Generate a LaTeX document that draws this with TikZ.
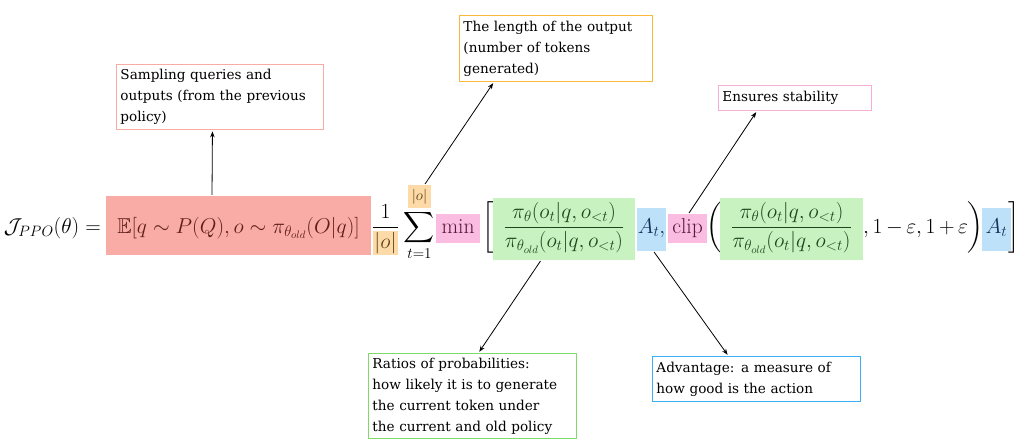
\RequirePackage{fix-cm}
\documentclass[tikz,border=0pt]{standalone}
\usepackage{amsmath}
\usepackage{amssymb}
\usepackage{fontspec}
\newfontfamily\notefam{DejaVu Serif}
\usetikzlibrary{arrows.meta,calc}

\definecolor{samplefill}{RGB}{249,172,165}
\definecolor{sampletext}{RGB}{95,30,28}
\definecolor{lenfill}{RGB}{253,219,168}
\definecolor{lentext}{RGB}{95,65,20}
\definecolor{clipfill}{RGB}{250,188,224}
\definecolor{cliptext}{RGB}{85,25,60}
\definecolor{ratiofill}{RGB}{200,242,192}
\definecolor{ratiotext}{RGB}{30,70,30}
\definecolor{advfill}{RGB}{190,225,250}
\definecolor{advtext}{RGB}{20,50,90}
\definecolor{lenline}{RGB}{250,185,60}
\definecolor{clipline}{RGB}{246,175,212}
\definecolor{ratioline}{RGB}{125,220,105}
\definecolor{advline}{RGB}{60,175,245}

\newcommand{\eqfont}{\fontsize{21.5}{26}\selectfont}
\newcommand{\notefont}{\notefam\fontsize{13.6}{21}\selectfont}
\newcommand{\lenbox}[1]{{\setlength{\fboxsep}{1.5pt}\colorbox{lenfill}{\color{lentext}$#1$}}}

\tikzset{
  hl/.style={inner sep=0pt, anchor=base, font=\eqfont},
  note/.style={draw, line width=0.9pt, fill=white, inner xsep=4pt, inner ysep=3pt, anchor=north west, align=left, font=\notefont},
  pointer/.style={-{Stealth[length=6pt,width=4.5pt]}, line width=0.8pt, shorten >=1.5pt, shorten <=1pt},
}

\begin{document}
\begin{tikzpicture}[x=1pt,y=-1pt]
\path[use as bounding box, fill=white] (0,0) rectangle (1024,445);
% the objective
\node[hl, anchor=base east] (lhs) at (101,233) {$\mathcal{J}_{PPO}(\theta) =$};
\node[hl, fill=samplefill, text=sampletext, minimum width=265pt, text height=37pt, text depth=22pt] (sample) at (238.5,233) {$\mathbb{E}[q\sim P(Q), o\sim \pi_{\theta_{old}}(O|q)]$};
\node[hl] (norm) at (385.5,233) {$\dfrac{1}{\lenbox{|o|}}$};
\node[hl] (sum) at (419.5,233) {$\displaystyle\sum_{t=1}$};
\node[hl, anchor=center, fill=lenfill, text=lentext, minimum width=23pt, minimum height=23pt] (len) at (419.5,196.5) {$\scriptstyle |o|$};
\node[hl, fill=clipfill, text=cliptext, minimum width=44pt, text height=19pt, text depth=10pt] (min) at (458,233) {$\min$};
\node[hl] (lbrack) at (488,233) {$\bigg[$};
\node[hl, fill=ratiofill, text=ratiotext, minimum width=142pt, text height=35pt, text depth=27pt] (ratio) at (564,233) {$\dfrac{\pi_\theta(o_t|q,o_{<t})}{\pi_{\theta_{old}}(o_t|q,o_{<t})}$};
\node[hl, fill=advfill, text=advtext, minimum width=29pt, text height=25pt, text depth=18pt] (adv) at (651.5,233) {$A_t,$};
\node[hl, fill=clipfill, text=cliptext, minimum width=39pt, text height=19pt, text depth=10pt] (clip) at (687.5,233) {$\mathrm{clip}$};
\node[hl] (lparen) at (714,233) {$\bigg($};
\node[hl, fill=ratiofill, text=ratiotext, minimum width=143pt, text height=35pt, text depth=27pt] (ratioclip) at (791.5,233) {$\dfrac{\pi_\theta(o_t|q,o_{<t})}{\pi_{\theta_{old}}(o_t|q,o_{<t})}$};
\node[hl, anchor=base west] (bounds) at (863,233) {$\medmuskip=3mu ,1-\varepsilon,1+\varepsilon$};
\node[hl] (rparen) at (975,233) {$\bigg)$};
\node[hl, fill=advfill, text=advtext, minimum width=29pt, text height=25pt, text depth=18pt] (advclip) at (996.5,233) {$A_t$};
\node[hl] (rbrack) at (1014,233) {$\bigg]$};
% the notes
\node[note, draw=samplefill, text width=199pt, minimum height=65pt] (samplenote) at (116,64) {Sampling queries and\\outputs (from the previous\\policy)};
\node[note, draw=lenline, text width=185pt, minimum height=66pt] (lennote) at (459,15) {The length of the output\\(number of tokens\\generated)};
\node[note, draw=clipline, text width=145pt, minimum height=25pt] (stabnote) at (718,85) {Ensures stability};
\node[note, draw=ratioline, text width=200pt, minimum height=85pt] (rationote) at (368,353) {Ratios of probabilities:\\how likely it is to generate\\the current token under\\the current and old policy};
\node[note, draw=advline, text width=200pt, minimum height=45pt] (advnote) at (652,356) {Advantage: a measure of\\how good is the action};
% pointers
\draw[pointer] ([xshift=-26.5pt]sample.north) -- ([xshift=-7.5pt]samplenote.south);
\draw[pointer] ([xshift=5pt]len.north) -- ([xshift=35pt]lennote.south west);
\draw[pointer] ([xshift=1pt]clip.north) -- ([xshift=39pt]stabnote.south west);
\draw[pointer] ([xshift=-23pt]ratio.south) -- ([xshift=6pt]rationote.north);
\draw[pointer] ([xshift=2pt]adv.south) -- ([xshift=-28pt]advnote.north);
\end{tikzpicture}
\end{document}
